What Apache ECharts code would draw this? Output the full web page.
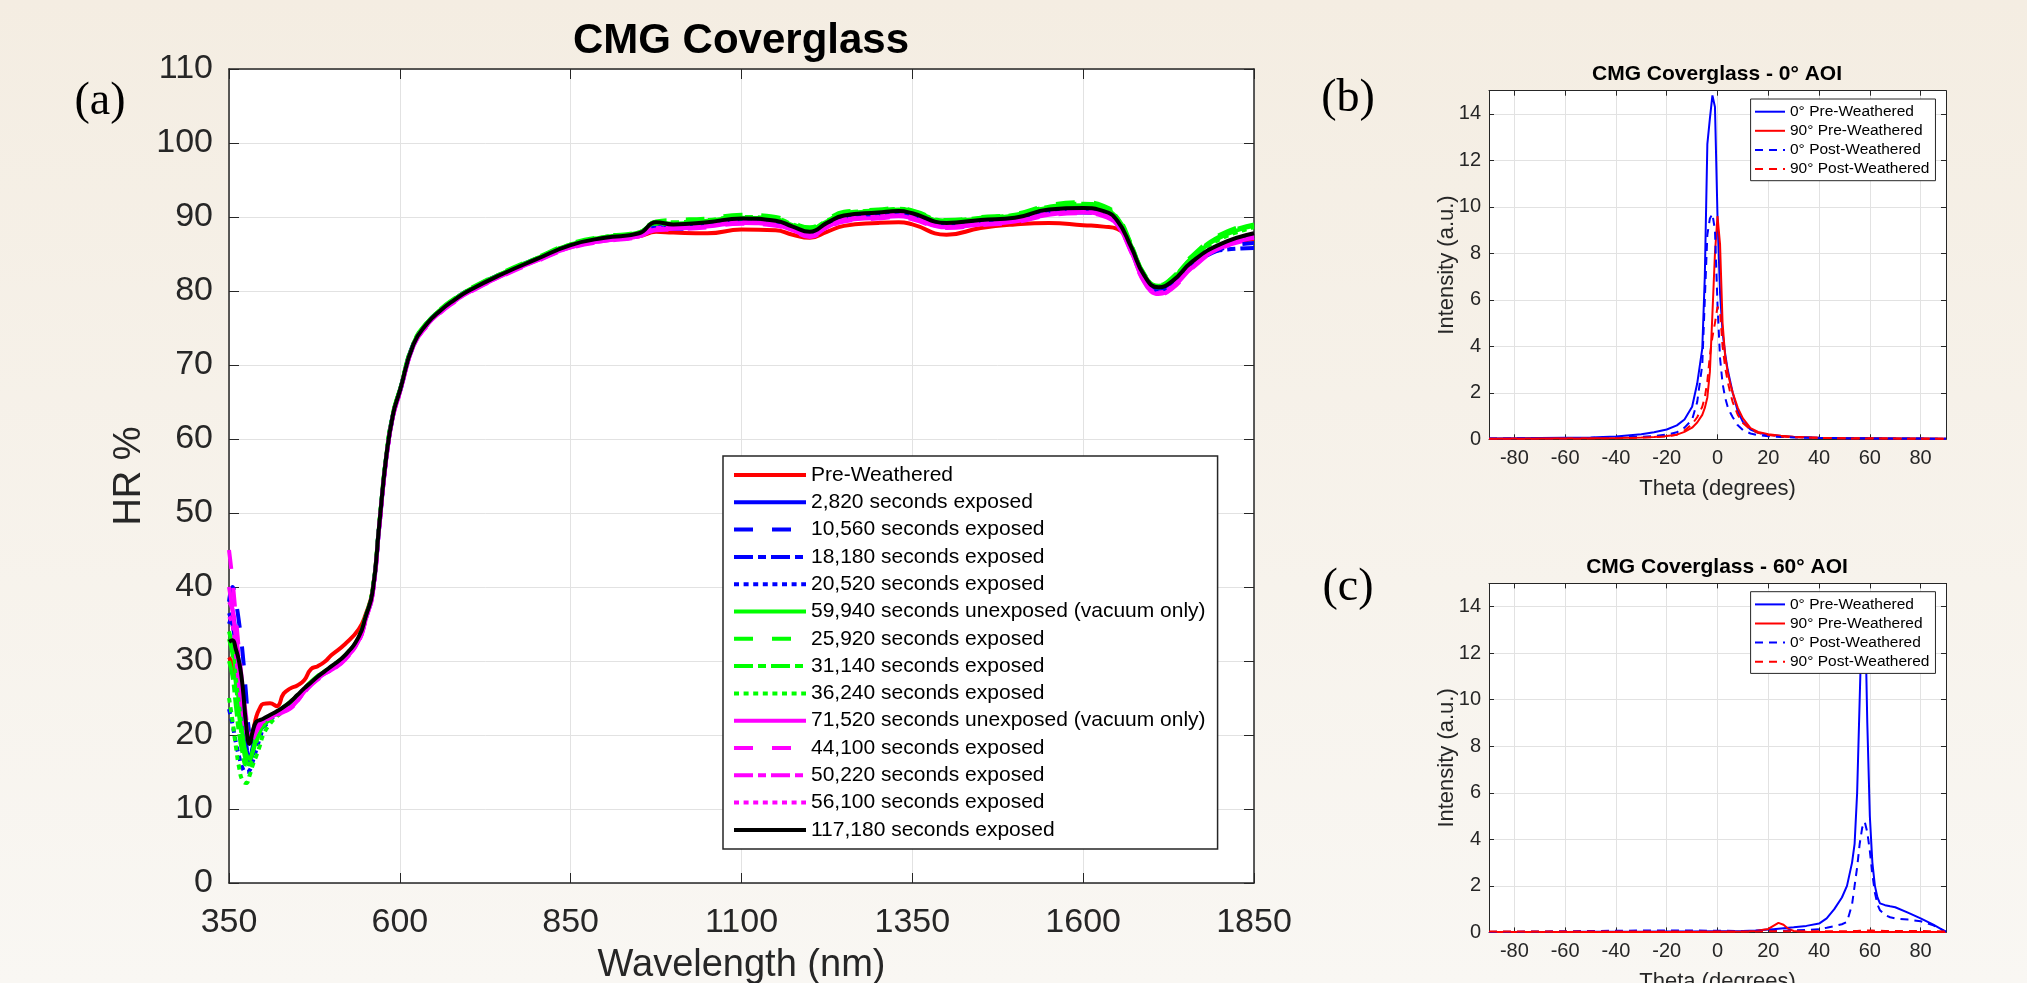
<!DOCTYPE html>
<html><head><meta charset="utf-8">
<script src="https://cdn.jsdelivr.net/npm/echarts@6/dist/echarts.min.js"></script>
<style>
html,body{margin:0;padding:0;width:2027px;height:983px;overflow:hidden;background:linear-gradient(#F4EDE2,#F9F7F3);}
#chart{width:2027px;height:983px;}
</style>
</head><body><div id="chart"></div>
<script>
// ---------------- DATA ----------------
const wavelength = [350,355,360,365,370,375,380,385,390,395,400,410,420,430,440,450,460,470,480,490,500,520,540,550,560,570,580,590,600,620,640,660,680,700,750,800,850,900,950,975,1000,1050,1100,1150,1175,1200,1225,1250,1300,1330,1350,1400,1450,1500,1550,1600,1630,1650,1670,1690,1710,1730,1760,1800,1850];

const mainSeriesNames = ['Pre-Weathered','2,820 seconds exposed','10,560 seconds exposed','18,180 seconds exposed','20,520 seconds exposed','59,940 seconds unexposed (vacuum only)','25,920 seconds exposed','31,140 seconds exposed','36,240 seconds exposed','71,520 seconds unexposed (vacuum only)','44,100 seconds exposed','50,220 seconds exposed','56,100 seconds exposed','117,180 seconds exposed'];

const hrPreWeathered = [30.5,29.5,27.5,25.0,22.5,20.5,19.5,20.5,22.5,23.6,24.2,24.3,23.9,25.6,26.3,26.7,27.4,28.9,29.3,29.9,30.8,32.3,34.3,36.3,39.5,48.5,57.5,63.3,66.5,72.8,75.6,77.4,78.8,80.0,82.3,84.3,86.0,86.9,87.4,88.0,87.9,87.8,88.3,88.2,87.6,87.2,88.0,88.8,89.2,89.3,89.0,87.6,88.5,89.0,89.2,88.9,88.7,88.4,85.8,81.8,79.8,80.6,83.5,86.0,87.0];
const hr2820 = [36.5,35.0,32.0,27.5,22.5,18.5,16.8,18.5,20.0,21.0,21.6,22.4,23.0,23.7,24.4,25.2,26.1,27.0,27.8,28.5,29.2,30.6,33.0,35.8,39.2,48.3,57.3,63.2,66.4,72.7,75.5,77.3,78.7,79.9,82.2,84.2,86.1,87.0,87.5,88.6,88.6,89.0,89.5,89.2,88.5,87.8,89.0,89.9,90.3,90.5,90.2,88.9,89.3,89.6,90.6,90.8,90.5,89.2,85.7,81.6,80.1,80.9,83.6,85.9,87.3];
const hr10560 = [38.0,40.0,38.0,35.0,31.0,25.5,20.0,19.0,20.5,21.3,21.9,22.5,23.0,23.6,24.3,25.1,26.0,26.9,27.7,28.4,29.0,30.5,33.1,35.9,39.4,48.6,57.6,63.4,66.6,72.9,75.7,77.5,78.9,80.1,82.4,84.4,86.2,87.1,87.6,88.4,88.4,88.8,89.4,89.1,88.4,87.7,88.9,89.8,90.2,90.4,90.1,88.8,89.2,89.5,90.5,90.6,90.3,89.0,85.5,81.4,80.0,80.7,83.3,85.6,86.5];
const hr18180 = [35.0,36.0,33.0,29.0,24.0,19.0,16.5,17.5,19.5,20.5,21.2,22.2,22.9,23.6,24.3,25.2,26.1,27.0,27.8,28.5,29.1,30.6,33.1,35.8,39.2,48.4,57.4,63.3,66.5,72.8,75.6,77.4,78.8,80.0,82.3,84.3,86.1,87.0,87.6,88.8,88.7,89.1,89.6,89.3,88.6,87.9,89.1,90.0,90.4,90.6,90.3,89.0,89.4,89.7,90.8,91.0,90.6,89.3,85.8,81.7,80.2,80.8,83.4,85.5,85.8];
const hr20520 = [23.5,21.5,19.0,17.0,15.5,15.0,15.2,16.5,18.0,19.5,20.8,22.0,22.8,23.5,24.3,25.1,26.0,26.9,27.7,28.4,29.0,30.5,33.0,35.7,39.1,48.2,57.2,63.1,66.3,72.6,75.4,77.3,78.7,79.9,82.2,84.2,86.0,87.0,87.5,88.7,88.7,89.1,89.6,89.3,88.6,87.9,89.1,90.0,90.4,90.6,90.3,89.0,89.4,89.7,90.7,90.9,90.5,89.2,85.7,81.6,80.1,80.9,83.6,86.0,87.5];
const hr59940 = [34.0,32.0,28.5,24.0,20.0,17.5,16.8,18.0,19.8,20.8,21.5,22.4,23.1,23.8,24.5,25.3,26.2,27.1,27.9,28.6,29.2,30.7,33.2,36.0,39.4,48.6,57.6,63.4,66.6,72.9,75.7,77.5,78.9,80.1,82.4,84.4,86.3,87.3,87.9,89.2,89.1,89.5,89.9,89.7,88.9,88.3,89.4,90.4,90.8,91.0,90.7,89.4,89.8,90.2,91.3,91.6,91.1,89.8,86.2,82.1,80.6,81.6,84.5,87.2,88.8];
const hr25920 = [33.0,31.0,27.0,22.5,19.0,16.5,16.0,17.5,19.0,20.5,21.3,22.3,23.0,23.7,24.5,25.4,26.3,27.2,28.0,28.7,29.3,30.8,33.3,36.1,39.5,48.7,57.7,63.5,66.7,73.0,75.8,77.6,79.0,80.2,82.5,84.5,86.4,87.4,88.0,89.4,89.6,89.8,90.3,90.0,89.2,88.6,89.7,90.7,91.0,91.2,90.9,89.6,90.0,90.4,91.6,92.0,91.5,90.1,86.4,82.2,80.8,81.8,84.8,87.6,89.2];
const hr31140 = [30.0,28.0,24.0,20.0,17.5,16.0,16.5,17.8,19.2,20.3,21.2,22.2,23.0,23.7,24.5,25.3,26.2,27.1,27.9,28.6,29.2,30.7,33.2,36.0,39.4,48.6,57.6,63.4,66.6,72.9,75.7,77.5,78.9,80.1,82.4,84.4,86.3,87.3,87.9,89.3,89.3,89.6,90.0,89.8,89.0,88.4,89.5,90.5,90.9,91.1,90.8,89.5,89.9,90.3,91.4,91.8,91.3,89.9,86.3,82.1,80.7,81.7,84.6,87.4,89.0];
const hr36240 = [25.0,22.0,18.5,15.5,13.8,13.5,14.5,16.0,17.2,18.5,20.0,21.5,22.5,23.3,24.2,25.1,26.0,26.9,27.8,28.5,29.1,30.6,33.1,35.9,39.3,48.5,57.5,63.3,66.5,72.8,75.6,77.4,78.8,80.0,82.3,84.3,86.2,87.2,87.8,89.1,89.0,89.4,89.8,89.6,88.8,88.2,89.3,90.3,90.7,90.9,90.6,89.3,89.7,90.1,91.2,91.5,91.0,89.7,86.1,82.0,80.5,81.5,84.4,87.0,88.6];
const hr71520 = [40.0,37.0,33.0,28.5,24.5,21.5,20.0,20.5,21.2,21.8,22.0,22.4,22.8,23.2,23.7,24.6,25.8,26.8,27.6,28.3,28.8,30.3,32.8,35.6,39.0,48.2,57.2,63.1,66.3,72.6,75.4,77.2,78.6,79.8,82.1,84.1,85.9,86.8,87.4,88.3,88.4,88.7,89.2,88.9,88.2,87.4,88.6,89.5,89.9,90.1,89.8,88.6,89.0,89.4,90.3,90.6,90.2,88.9,85.4,81.2,79.6,80.4,83.2,85.8,87.2];
const hr44100 = [45.0,41.0,36.0,31.0,26.5,22.5,19.5,19.8,20.5,21.2,21.8,22.3,22.7,23.1,23.6,24.5,25.7,26.7,27.5,28.2,28.7,30.2,32.7,35.5,38.9,48.1,57.1,63.0,66.2,72.5,75.3,77.1,78.5,79.7,82.0,84.0,85.8,86.7,87.3,88.2,88.3,88.6,89.1,88.8,88.1,87.3,88.5,89.4,89.8,90.0,89.7,88.5,88.9,89.3,90.2,90.5,90.1,88.8,85.3,81.1,79.5,80.3,83.1,85.7,87.0];
const hr50220 = [38.0,37.0,34.0,29.5,25.0,21.0,19.0,19.5,20.5,21.3,21.8,22.3,22.8,23.2,23.7,24.6,25.8,26.8,27.6,28.3,28.8,30.3,32.8,35.6,39.0,48.2,57.2,63.1,66.3,72.6,75.4,77.2,78.6,79.8,82.1,84.1,85.9,86.8,87.4,88.4,88.5,88.8,89.3,89.0,88.3,87.5,88.7,89.6,90.0,90.2,89.9,88.7,89.1,89.5,90.4,90.7,90.3,89.0,85.5,81.3,79.7,80.5,83.3,85.9,87.3];
const hr56100 = [36.0,35.0,31.0,26.5,23.0,20.5,19.5,20.0,20.8,21.4,21.8,22.3,22.8,23.3,23.8,24.7,25.9,26.9,27.7,28.4,28.9,30.4,32.9,35.7,39.1,48.3,57.3,63.2,66.4,72.7,75.5,77.3,78.7,79.9,82.2,84.2,86.0,86.9,87.5,88.5,88.6,88.9,89.4,89.1,88.4,87.6,88.8,89.7,90.1,90.3,90.0,88.8,89.2,89.6,90.5,90.8,90.4,89.1,85.6,81.4,79.8,80.6,83.4,86.0,87.4];
const hr117180 = [32.6,32.8,31.6,29.8,26.5,21.5,18.8,20.6,21.8,22.0,22.2,22.7,23.2,23.8,24.5,25.4,26.3,27.1,27.9,28.6,29.3,30.8,33.3,36.0,39.3,48.5,57.5,63.3,66.5,72.8,75.6,77.4,78.8,80.0,82.3,84.3,86.2,87.2,87.8,89.3,89.0,89.3,89.8,89.5,88.7,88.0,89.2,90.2,90.6,90.8,90.5,89.2,89.6,89.9,91.0,91.2,90.8,89.5,86.0,82.0,80.5,81.3,84.0,86.3,87.8];

const mainXTicks = [350,600,850,1100,1350,1600,1850];
const mainYTicks = [0,10,20,30,40,50,60,70,80,90,100,110];

const sideSeriesNames = ['0° Pre-Weathered','90° Pre-Weathered','0° Post-Weathered','90° Post-Weathered'];
const thetaB = [-90,-80,-70,-60,-50,-40,-30,-25,-20,-16,-13,-10,-8,-6,-5,-4,-3,-2,-1,0,1,2,3,4,5,6,8,10,13,16,20,25,30,40,50,60,70,80,90];
const b0Pre   = [0.03,0.05,0.06,0.07,0.08,0.12,0.22,0.3,0.42,0.6,0.85,1.4,2.4,3.9,7.0,12.7,13.8,14.8,14.3,9.6,6.3,4.6,3.7,3.0,2.5,2.0,1.2,0.75,0.42,0.28,0.2,0.14,0.1,0.07,0.05,0.04,0.03,0.03,0.02];
const b90Pre  = [0.02,0.03,0.03,0.04,0.05,0.06,0.08,0.1,0.14,0.2,0.32,0.5,0.72,1.05,1.35,1.8,2.9,5.4,8.0,9.6,8.4,5.0,3.6,2.9,2.4,2.0,1.35,0.9,0.48,0.32,0.22,0.15,0.11,0.07,0.05,0.04,0.03,0.03,0.02];
const b0Post  = [0.03,0.04,0.05,0.05,0.06,0.08,0.11,0.14,0.2,0.3,0.5,0.85,1.6,3.2,6.0,8.8,9.5,9.7,9.0,5.8,3.5,2.4,1.8,1.4,1.15,0.95,0.6,0.4,0.25,0.18,0.13,0.1,0.08,0.06,0.05,0.04,0.03,0.03,0.02];
const b90Post = [0.02,0.02,0.03,0.03,0.04,0.05,0.07,0.09,0.12,0.2,0.38,0.65,0.95,1.4,1.8,2.5,3.6,4.4,5.0,5.7,5.5,4.0,3.1,2.5,2.0,1.6,1.05,0.7,0.42,0.28,0.18,0.12,0.09,0.06,0.04,0.03,0.03,0.02,0.02];

const thetaC = [-90,-80,-70,-60,-50,-40,-30,-20,-10,0,10,15,20,22,24,26,28,30,35,40,43,46,49,51,53,54,55,56,57,58,59,60,61,62,63,64,66,68,70,75,80,85,90];
const c0Pre   = [0.02,0.02,0.02,0.02,0.03,0.03,0.03,0.04,0.04,0.05,0.06,0.08,0.12,0.14,0.16,0.18,0.2,0.22,0.28,0.38,0.6,1.0,1.5,2.0,3.0,3.8,6.0,10.0,14.0,14.5,9.0,5.0,3.0,2.0,1.5,1.25,1.17,1.12,1.08,0.85,0.6,0.33,0.02];
const c90Pre  = [0.02,0.02,0.02,0.02,0.02,0.02,0.02,0.02,0.02,0.03,0.04,0.06,0.15,0.28,0.41,0.33,0.15,0.06,0.03,0.02,0.02,0.02,0.02,0.02,0.02,0.02,0.02,0.02,0.02,0.02,0.02,0.02,0.02,0.02,0.02,0.02,0.02,0.02,0.02,0.02,0.02,0.02,0.02];
const c0Post  = [0.02,0.03,0.04,0.05,0.06,0.07,0.08,0.08,0.08,0.07,0.06,0.06,0.06,0.06,0.06,0.07,0.08,0.09,0.1,0.14,0.2,0.27,0.35,0.45,1.2,2.0,2.8,3.8,4.5,4.75,4.3,3.5,2.5,1.7,1.2,0.95,0.75,0.65,0.6,0.55,0.48,0.3,0.03];
const c90Post = [0.04,0.04,0.04,0.04,0.04,0.04,0.04,0.04,0.04,0.04,0.04,0.04,0.05,0.05,0.05,0.05,0.05,0.05,0.05,0.05,0.05,0.05,0.05,0.05,0.06,0.06,0.06,0.07,0.07,0.08,0.08,0.08,0.08,0.07,0.07,0.07,0.06,0.06,0.06,0.06,0.06,0.05,0.04];

const sideXTicks = [-80,-60,-40,-20,0,20,40,60,80];
const sideYTicks = [0,2,4,6,8,10,12,14];

// ---------------- STYLES ----------------
const FONT = "'Liberation Sans', Arial, Helvetica, sans-serif";
const SERIF = "'Liberation Serif', 'Times New Roman', serif";
const TXT = '#262626';
const DASH = [19, 19], DASHDOT = [19, 5, 8, 5], DOT = [5, 4.6];
const mainValues = [hrPreWeathered, hr2820, hr10560, hr18180, hr20520, hr59940, hr25920, hr31140, hr36240, hr71520, hr44100, hr50220, hr56100, hr117180];
const mainStyle = [
  ['#FF0000','solid'],['#0000FF','solid'],['#0000FF',DASH],['#0000FF',DASHDOT],['#0000FF',DOT],
  ['#00FF00','solid'],['#00FF00',DASH],['#00FF00',DASHDOT],['#00FF00',DOT],
  ['#FF00FF','solid'],['#FF00FF',DASH],['#FF00FF',DASHDOT],['#FF00FF',DOT],['#000000','solid']
];
const sideStyle = [['#0000FF','solid'],['#FF0000','solid'],['#0000FF',[8,6]],['#FF0000',[8,6]]];
const plain = v => String(v);

const grids = [
  {left:229, top:69, width:1025, height:814},
  {left:1489, top:90.7, width:457, height:348.6},
  {left:1489, top:583.4, width:457, height:349}
].map(g => Object.assign(g, {show:true, backgroundColor:'#fff', borderWidth:0, containLabel:false, outerBoundsMode:'none'}));

function xAx(gi, pos, ticks, min, max, opt) {
  const main = gi === 0;
  return {
    type:'value', gridIndex:gi, position:pos, min, max,
    axisLine:{show:true, onZero:false, lineStyle:{color:TXT, width: main?1.5:1}},
    axisTick:{show:true, inside:true, length: main?10:5, customValues:ticks, lineStyle:{color:TXT, width:1}},
    axisLabel:{show: pos==='bottom', customValues:ticks, formatter:plain, fontFamily:FONT, fontSize: main?34:20, color:TXT, margin: main?23:9},
    splitLine:{show: pos==='bottom', lineStyle:{color:'#E2E2E2', width:1}},
    nameMoveOverlap:false,
    ...opt
  };
}
function yAx(gi, pos, ticks, min, max, opt) {
  const main = gi === 0;
  return {
    type:'value', gridIndex:gi, position:pos, min, max,
    axisLine:{show:true, onZero:false, lineStyle:{color:TXT, width: main?1.5:1}},
    axisTick:{show:true, inside:true, length: main?10:5, customValues:ticks, lineStyle:{color:TXT, width:1}},
    axisLabel:{show: pos==='left', customValues:ticks, formatter:plain, fontFamily:FONT, fontSize: main?34:20, color:TXT, margin: main?16:8},
    splitLine:{show: pos==='left', lineStyle:{color:'#E2E2E2', width:1}},
    nameMoveOverlap:false,
    ...opt
  };
}

const xAxis = [
  xAx(0,'bottom',mainXTicks,350,1850,{name:'Wavelength (nm)', nameLocation:'middle', nameGap:64, nameTextStyle:{fontFamily:FONT, fontSize:38, color:TXT}}),
  xAx(0,'top',mainXTicks,350,1850,{}),
  xAx(1,'bottom',sideXTicks,-90,90,{name:'Theta (degrees)', nameLocation:'middle', nameGap:39, nameTextStyle:{fontFamily:FONT, fontSize:22, color:TXT}}),
  xAx(1,'top',sideXTicks,-90,90,{}),
  xAx(2,'bottom',sideXTicks,-90,90,{name:'Theta (degrees)', nameLocation:'middle', nameGap:39, nameTextStyle:{fontFamily:FONT, fontSize:22, color:TXT}}),
  xAx(2,'top',sideXTicks,-90,90,{})
];
const yAxis = [
  yAx(0,'left',mainYTicks,0,110,{name:'HR %', nameLocation:'middle', nameGap:80, nameTextStyle:{fontFamily:FONT, fontSize:38, color:TXT}}),
  yAx(0,'right',mainYTicks,0,110,{}),
  yAx(1,'left',sideYTicks,0,15,{name:'Intensity (a.u.)', nameLocation:'middle', nameGap:31, nameTextStyle:{fontFamily:FONT, fontSize:22, color:TXT}}),
  yAx(1,'right',sideYTicks,0,15,{}),
  yAx(2,'left',sideYTicks,0,15,{name:'Intensity (a.u.)', nameLocation:'middle', nameGap:31, nameTextStyle:{fontFamily:FONT, fontSize:22, color:TXT}}),
  yAx(2,'right',sideYTicks,0,15,{})
];

const series = [];
mainValues.forEach((vals, i) => {
  series.push({
    name: mainSeriesNames[i], type:'line', xAxisIndex:0, yAxisIndex:0,
    data: wavelength.map((w, k) => [w, vals[k]]),
    symbol:'none', showSymbol:false, smooth:0.5,
    lineStyle:{width:4, color:mainStyle[i][0], type:mainStyle[i][1], cap:'butt', join:'round'},
    itemStyle:{color:mainStyle[i][0]}, emphasis:{disabled:true}, silent:true
  });
});
[[thetaB,[b0Pre,b90Pre,b0Post,b90Post],1],[thetaC,[c0Pre,c90Pre,c0Post,c90Post],2]].forEach(([th, arrs, gi]) => {
  arrs.forEach((vals, i) => {
    series.push({
      name: sideSeriesNames[i], type:'line', xAxisIndex:gi*2, yAxisIndex:gi*2,
      data: th.map((t, k) => [t, vals[k]]),
      symbol:'none', showSymbol:false,
      lineStyle:{width:2, color:sideStyle[i][0], type:sideStyle[i][1]},
      itemStyle:{color:sideStyle[i][0]}, emphasis:{disabled:true}, silent:true
    });
  });
});

const legendCommon = {orient:'vertical', selectedMode:false, backgroundColor:'#fff', borderColor:TXT, itemStyle:{opacity:0}};
const legend = [
  Object.assign({}, legendCommon, {
    left:723, top:456, padding:[8.5,12,8.5,9], itemGap:6.3, itemWidth:72, itemHeight:21,
    borderWidth:1.5, lineStyle:{width:4},
    data: mainSeriesNames,
    textStyle:{fontFamily:FONT, fontSize:21, lineHeight:21, color:'#000'}
  }),
  Object.assign({}, legendCommon, {
    left:1750.6, top:99, padding:[4.7,6,3.7,3.4], itemGap:3.1, itemWidth:30, itemHeight:16,
    borderWidth:1, lineStyle:{width:2},
    data: sideSeriesNames,
    textStyle:{fontFamily:FONT, fontSize:15.5, lineHeight:16, color:'#000'}
  }),
  Object.assign({}, legendCommon, {
    left:1750.6, top:591.7, padding:[4.7,6,3.7,3.4], itemGap:3.1, itemWidth:30, itemHeight:16,
    borderWidth:1, lineStyle:{width:2},
    data: sideSeriesNames,
    textStyle:{fontFamily:FONT, fontSize:15.5, lineHeight:16, color:'#000'}
  })
];

const title = [
  {text:'CMG Coverglass', left:741, top:20.5, textAlign:'center', padding:0, textStyle:{fontFamily:FONT, fontSize:42, fontWeight:'bold', color:'#000'}},
  {text:'CMG Coverglass - 0° AOI', left:1717, top:63.5, textAlign:'center', padding:0, textStyle:{fontFamily:FONT, fontSize:21, fontWeight:'bold', color:'#000'}},
  {text:'CMG Coverglass - 60° AOI', left:1717, top:557, textAlign:'center', padding:0, textStyle:{fontFamily:FONT, fontSize:21, fontWeight:'bold', color:'#000'}},
  {text:'(a)', left:100, top:79, textAlign:'center', padding:0, textStyle:{fontFamily:SERIF, fontSize:46, fontWeight:'normal', color:'#000'}},
  {text:'(b)', left:1348, top:76, textAlign:'center', padding:0, textStyle:{fontFamily:SERIF, fontSize:46, fontWeight:'normal', color:'#000'}},
  {text:'(c)', left:1348, top:565, textAlign:'center', padding:0, textStyle:{fontFamily:SERIF, fontSize:46, fontWeight:'normal', color:'#000'}}
];

const chart = echarts.init(document.getElementById('chart'), null, {renderer:'canvas'});
chart.setOption({
  animation:false, backgroundColor:'transparent',
  title, legend, grid:grids, xAxis, yAxis, series, tooltip:{show:false}
});
</script>
</body></html>
